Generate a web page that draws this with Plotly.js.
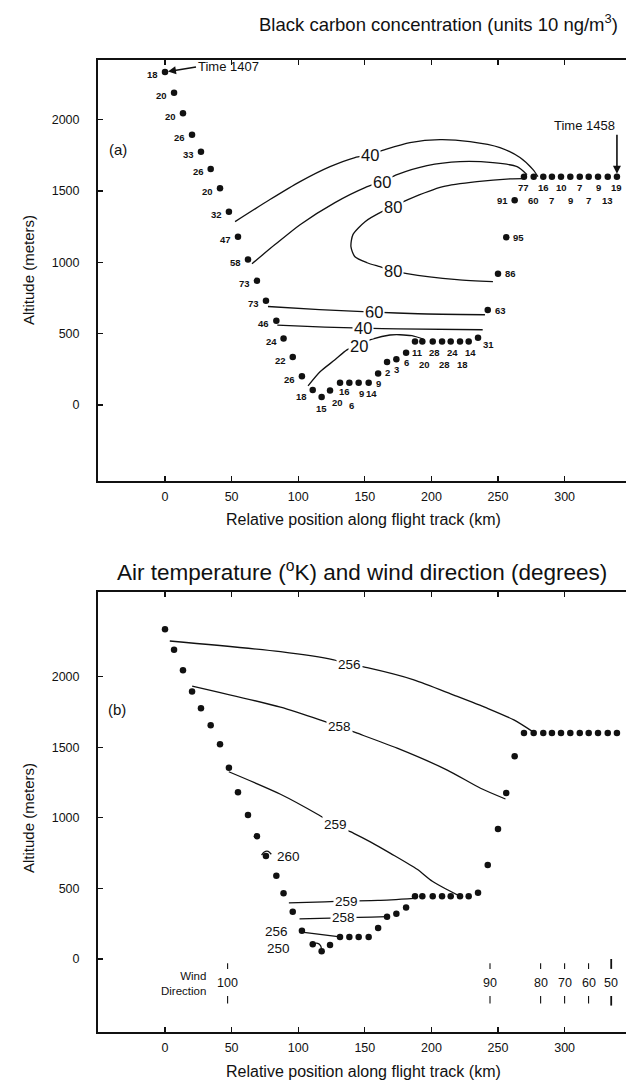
<!DOCTYPE html>
<html><head><meta charset="utf-8">
<script src="https://cdn.plot.ly/plotly-3.0.1.min.js"></script>
<style>html,body{margin:0;padding:0;background:#fff}</style>
</head><body><div id="chart" style="width:626px;height:1082px"></div>
<script>
// ---------------- data ----------------
// flight-track observation points (shared by both panels)
const positionKm = [0, 6.8, 13.5, 20.3, 27, 34.3, 41.3, 48, 54.8, 62.3, 69, 75.8, 83.6, 89, 95.9, 102.8,
  110.9, 117.6, 123.9, 131.4, 138.4, 145.4, 152.9, 160, 166.7, 173.7, 181,
  187.7, 193.2, 201, 208, 214.5, 221.5, 228, 235, 242.3, 250, 256.2, 262.5,
  269.5, 276.8, 284, 290.5, 297.3, 304.3, 311.4, 318.1, 325.1, 332.4, 339.3];
const altitudeM = [2335, 2190, 2045, 1895, 1775, 1655, 1520, 1355, 1180, 1020, 870, 730, 590, 465, 335, 200,
  105, 55, 100, 155, 155, 155, 155, 220, 300, 320, 365,
  445, 445, 445, 445, 445, 445, 445, 470, 665, 920, 1175, 1435,
  1600, 1600, 1600, 1600, 1600, 1600, 1600, 1600, 1600, 1600, 1600];
const blackCarbon = [18, 20, 20, 26, 33, 26, 20, 32, 47, 58, 73, 73, 46, 24, 22, 26,
  18, 15, 20, 16, 6, 9, 14, 9, 2, 3, 6,
  11, 20, 28, 28, 24, 18, 14, 31, 63, 86, 95, 91,
  77, 60, 16, 7, 10, 9, 7, 7, 9, 13, 19];

// black carbon isolines (panel a)
const bc40UpperX = [52.6, 78.8, 101.4, 123.9, 142.6, 153.9, 165.2, 183.9, 206.5, 229, 251.5, 266.5, 276.3, 280];
const bc40UpperY = [1285, 1440, 1566, 1671, 1735, 1756, 1791, 1840, 1861, 1847, 1805, 1735, 1650, 1601];
const bc60UpperX = [65.3, 82.6, 101.4, 127.6, 150.2, 162.9, 174.2, 196.7, 221.5, 246.2, 264.3, 271.8];
const bc60UpperY = [990, 1124, 1264, 1419, 1524, 1566, 1615, 1678, 1706, 1699, 1671, 1615];
const bc80X = [268.8, 259, 234.2, 208.7, 182.4, 171.2, 162.9, 150.2, 141.1, 139.6, 142.6, 151.7, 161.4, 171.2, 181.7, 219.2, 246.2];
const bc80Y = [1587, 1585, 1566, 1531, 1440, 1390, 1355, 1285, 1194, 1110, 1039, 997, 969, 941, 920, 878, 864];
const bc60LowerX = [77.3, 116, 156.9, 190, 240.2];
const bc60LowerY = [690, 668, 651, 639, 632];
const bc40LowerX = [84.3, 120, 148.9, 175, 238.5];
const bc40LowerY = [560, 545, 538, 533, 527];
const bc20X = [107.4, 116.4, 127.6, 136.6, 145.9, 156.2, 168.9, 176.4, 185.4, 194];
const bc20Y = [133, 232, 316, 386, 424, 463, 490, 492, 485, 461];
const bcLabelText = ['40', '60', '80', '80', '60', '40', '20'];
const bcLabelX = [153.9, 162.9, 171.3, 170.8, 156.9, 148.9, 145.9];
const bcLabelY = [1756, 1566, 1390, 938, 651, 536, 412];

// air temperature isotherms (panel b)
const t256UpperX = [3.6, 86.7, 126.7, 138.5, 151.8, 186.8, 216.8, 241.9, 261.9, 276.9];
const t256UpperY = [2252, 2176, 2118, 2087, 2063, 1977, 1869, 1776, 1693, 1605];
const t258UpperX = [20.4, 86.7, 118, 131, 144.3, 174.3, 211.9, 236.9, 255.6];
const t258UpperY = [1933, 1783, 1688, 1645, 1599, 1493, 1338, 1209, 1133];
const t259UpperX = [47.9, 86.7, 115.5, 128, 141.7, 154.5, 169.3, 189.3, 200.7, 221.2];
const t259UpperY = [1326, 1167, 1020, 949, 890, 828, 748, 635, 550, 445];
const t259LowerX = [93, 120, 137, 160, 187];
const t259LowerY = [398, 405, 410, 415, 430];
const t258LowerX = [101, 124, 135, 155, 167];
const t258LowerY = [284, 290, 293, 297, 300];
const t256LowerX = [102.8, 131.4];
const t256LowerY = [190, 157];
const t250X = [110.9, 114, 116.8, 117.6];
const t250Y = [103, 112, 95, 62];
const t260X = [72.5, 74.5, 77.5, 79.8];
const t260Y = [735, 758, 762, 742];
const tLabelText = ['256', '258', '259', '260', '259', '258', '256', '250'];
const tLabelX = [138.5, 131, 128, 93, 136.6, 134, 84, 85];
const tLabelY = [2087, 1645, 949, 728, 407, 293, 197, 72];

// wind direction (degrees) along track
const windPosKm = [47, 244, 282, 300, 318, 335];
const windDirDeg = [100, 90, 80, 70, 60, 50];

const xTicks = [0, 50, 100, 150, 200, 250, 300];
const yTicks = [0, 500, 1000, 1500, 2000];

// ---------------- drawing ----------------
const FONT = 'Liberation Sans, Arial, Helvetica, sans-serif';
const INK = '#111';
const lineStyle = {color: INK, width: 1.3, shape: 'spline', smoothing: 0.7};

function isoline(x, y, xa, ya) {
  return {x: x, y: y, xaxis: xa, yaxis: ya, mode: 'lines', line: lineStyle, hoverinfo: 'skip', showlegend: false};
}
function dots(xa, ya) {
  return {x: positionKm, y: altitudeM, xaxis: xa, yaxis: ya, mode: 'markers',
    marker: {color: INK, size: 6.5}, hoverinfo: 'skip', showlegend: false};
}

const traces = [
  isoline(bc40UpperX, bc40UpperY, 'x', 'y'),
  isoline(bc60UpperX, bc60UpperY, 'x', 'y'),
  isoline(bc80X, bc80Y, 'x', 'y'),
  isoline(bc60LowerX, bc60LowerY, 'x', 'y'),
  isoline(bc40LowerX, bc40LowerY, 'x', 'y'),
  isoline(bc20X, bc20Y, 'x', 'y'),
  dots('x', 'y'),
  isoline(t256UpperX, t256UpperY, 'x2', 'y2'),
  isoline(t258UpperX, t258UpperY, 'x2', 'y2'),
  isoline(t259UpperX, t259UpperY, 'x2', 'y2'),
  isoline(t259LowerX, t259LowerY, 'x2', 'y2'),
  isoline(t258LowerX, t258LowerY, 'x2', 'y2'),
  isoline(t256LowerX, t256LowerY, 'x2', 'y2'),
  isoline(t250X, t250Y, 'x2', 'y2'),
  isoline(t260X, t260Y, 'x2', 'y2'),
  dots('x2', 'y2')
];

function dotLabelPlacement(i) {
  if (i <= 15) return {xanchor: 'right', xshift: -5, yshift: -3};
  if (i === 16) return {xanchor: 'right', xshift: -4, yshift: -7};
  if (i === 17) return {xanchor: 'center', xshift: 0, yshift: -11};
  if (i === 18) return {xanchor: 'left', xshift: 0, yshift: -12};
  if (i === 19) return {xanchor: 'center', xshift: 4, yshift: -9};
  if (i === 20) return {xanchor: 'center', xshift: 2, yshift: -23};
  if (i <= 22) return {xanchor: 'center', xshift: 3, yshift: -11};
  if (i <= 26) return {xanchor: 'center', xshift: 0, yshift: -10};
  if (i <= 33) return {xanchor: 'center', xshift: 2, yshift: ((i - 27) % 2 === 0) ? -11 : -23};
  if (i === 34) return {xanchor: 'left', xshift: 3, yshift: -7};
  if (i <= 37) return {xanchor: 'left', xshift: 5, yshift: 0};
  if (i === 38) return {xanchor: 'right', xshift: -5, yshift: 0};
  return {xanchor: 'center', xshift: 0, yshift: ((i - 39) % 2 === 0) ? -11 : -24};
}

const annotations = [];
blackCarbon.forEach(function (v, i) {
  const p = dotLabelPlacement(i);
  annotations.push({x: positionKm[i], y: altitudeM[i], xref: 'x', yref: 'y', text: String(v),
    showarrow: false, xanchor: p.xanchor, yanchor: 'middle', xshift: p.xshift, yshift: p.yshift,
    font: {family: FONT, size: 9.5, color: INK, weight: 700}});
});
bcLabelText.forEach(function (t, i) {
  annotations.push({x: bcLabelX[i], y: bcLabelY[i], xref: 'x', yref: 'y', text: t, showarrow: false,
    xanchor: 'center', yanchor: 'middle', bgcolor: 'white', borderpad: 1, font: {family: FONT, size: 16.5, color: INK}});
});
tLabelText.forEach(function (t, i) {
  annotations.push({x: tLabelX[i], y: tLabelY[i], xref: 'x2', yref: 'y2', text: t, showarrow: false,
    xanchor: 'center', yanchor: 'middle',
    bgcolor: i === 3 ? 'rgba(0,0,0,0)' : 'white', borderpad: 1, font: {family: FONT, size: 13.5, color: INK}});
});
// time markers
annotations.push({x: positionKm[0], y: altitudeM[0], xref: 'x', yref: 'y', text: 'Time 1407',
  showarrow: true, ax: 31, ay: -5, xanchor: 'left', yanchor: 'middle', arrowhead: 2, arrowsize: 1,
  arrowwidth: 1.6, arrowcolor: INK, standoff: 3, font: {family: FONT, size: 13, color: INK}});
const last = positionKm.length - 1;
annotations.push({x: positionKm[last], y: altitudeM[last], xref: 'x', yref: 'y', text: 'Time 1458',
  showarrow: true, ax: 0, ay: -42, xanchor: 'right', yanchor: 'bottom', arrowhead: 2, arrowsize: 1,
  arrowwidth: 1.6, arrowcolor: INK, standoff: 3, font: {family: FONT, size: 13, color: INK}});
// panel letters
annotations.push({x: -35, y: 1790, xref: 'x', yref: 'y', text: '(a)', showarrow: false,
  xanchor: 'center', yanchor: 'middle', font: {family: FONT, size: 15, color: INK}});
annotations.push({x: -36, y: 1765, xref: 'x2', yref: 'y2', text: '(b)', showarrow: false,
  xanchor: 'center', yanchor: 'middle', font: {family: FONT, size: 15, color: INK}});
// wind direction
windDirDeg.forEach(function (d, i) {
  annotations.push({x: windPosKm[i], y: -172, xref: 'x2', yref: 'y2', text: String(d), showarrow: false,
    xanchor: 'center', yanchor: 'middle', font: {family: FONT, size: 12.5, color: INK}});
});
annotations.push({x: 32, y: -172, xref: 'x2', yref: 'y2', text: 'Wind<br>Direction', showarrow: false,
  xanchor: 'right', yanchor: 'middle', align: 'right', font: {family: FONT, size: 11.5, color: INK}});
// titles (paper coordinates)
function paperText(text, px, py, size, angle) {
  annotations.push({x: px / 626, y: 1 - py / 1082, xref: 'paper', yref: 'paper', showarrow: false,
    xanchor: 'center', yanchor: 'middle', textangle: angle || 0, text: text,
    font: {family: FONT, size: size, color: INK}});
}
paperText('Black carbon concentration (units 10 ng/m<sup>3</sup>)', 439, 23, 18.5);
paperText('Air temperature (<sup>o</sup>K) and wind direction (degrees)', 362, 571, 22.5);
paperText('Relative position along flight track (km)', 363, 519, 16);
paperText('Relative position along flight track (km)', 363, 1071, 16);
paperText('Altitude (meters)', 28, 270, 15, -90);
paperText('Altitude (meters)', 28, 818, 15, -90);

// wind tick marks
const shapes = [];
windPosKm.forEach(function (xk, i) {
  const strong = windDirDeg[i] === 50;
  const w = strong ? 1.8 : 1.1;
  shapes.push({type: 'line', xref: 'x2', yref: 'y2', x0: xk, x1: xk, y0: strong ? 0 : -30, y1: -70, line: {color: INK, width: w}});
  shapes.push({type: 'line', xref: 'x2', yref: 'y2', x0: xk, x1: xk, y0: -262, y1: strong ? -330 : -315, line: {color: INK, width: w}});
});

function xAxis(anchor) {
  return {domain: [98 / 626, 1], range: [-50.3, 346.1], anchor: anchor, tickvals: xTicks,
    ticks: 'inside', ticklen: 5, tickwidth: 1.3, tickcolor: INK, showline: true, linecolor: INK, linewidth: 2,
    mirror: 'ticks', showgrid: false, zeroline: false, ticklabelstandoff: 3,
    tickfont: {family: FONT, size: 12.5, color: INK}, fixedrange: true};
}
function yAxis(top, bottom, range, anchor) {
  return {domain: [1 - bottom / 1082, 1 - top / 1082], range: range, anchor: anchor, tickvals: yTicks,
    ticks: 'inside', ticklen: 5, tickwidth: 1.3, tickcolor: INK, showline: true, linecolor: INK, linewidth: 2,
    showgrid: false, zeroline: false, ticklabelstandoff: 14,
    tickfont: {family: FONT, size: 12.5, color: INK}, fixedrange: true};
}

const layout = {
  width: 626, height: 1082, margin: {l: 0, r: 0, t: 0, b: 0},
  paper_bgcolor: 'white', plot_bgcolor: 'white', showlegend: false,
  xaxis: xAxis('y'), yaxis: yAxis(60, 481, [-534, 2419], 'x'),
  xaxis2: xAxis('y2'), yaxis2: yAxis(592, 1032, [-517, 2599], 'x2'),
  annotations: annotations, shapes: shapes
};

Plotly.newPlot('chart', traces, layout, {staticPlot: true});
</script>
</body></html>
